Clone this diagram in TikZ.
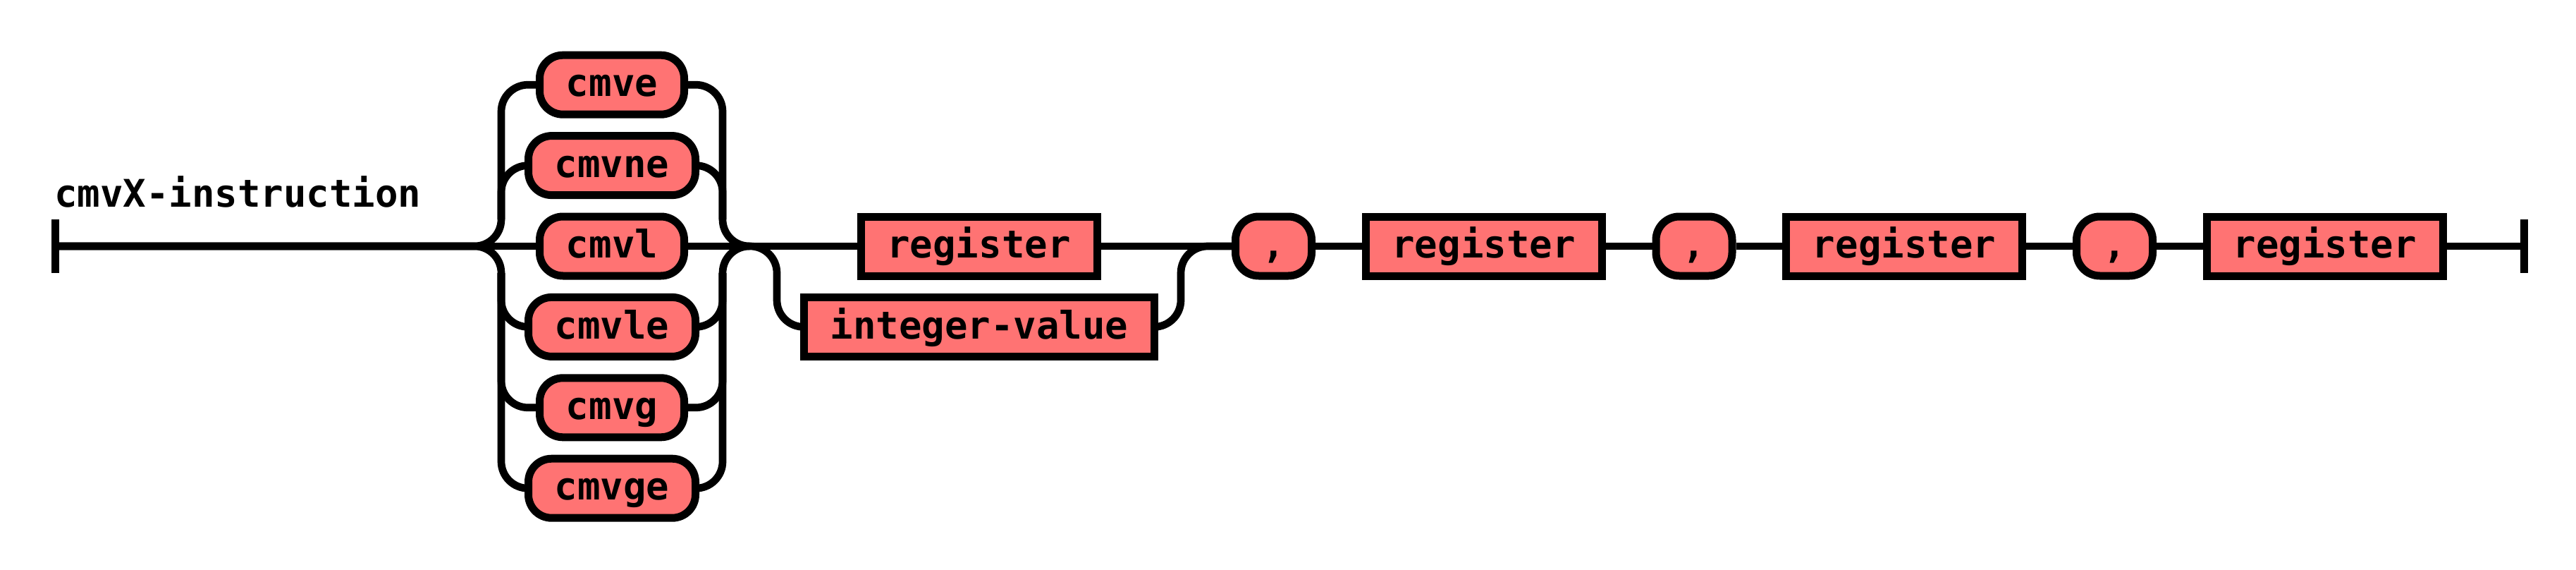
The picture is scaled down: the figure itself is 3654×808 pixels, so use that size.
\documentclass[tikz,border=0pt]{standalone}
\usepackage{fontspec}
\newfontfamily\rrfont{DejaVu Sans Mono}
\definecolor{boxfill}{RGB}{255,115,115}
\begin{document}
\begin{tikzpicture}[x=1pt,y=-1pt,
  rail/.style={line width=10.7pt, draw=black},
  curvy/.style={rail, rounded corners=38pt},
  barline/.style={line width=11pt, draw=black},
  term/.style={draw=black, fill=boxfill, line width=11pt, rounded corners=33pt,
    minimum height=84pt, inner sep=0pt, text height=38.5pt, text depth=5pt,
    font=\fontsize{54pt}{60pt}\rrfont\bfseries},
  nonterm/.style={term, sharp corners},
  title/.style={anchor=base west, inner sep=0pt, font=\fontsize{54pt}{60pt}\rrfont\bfseries}
]
\fill[white] (0,0) rectangle (3654,808);
\useasboundingbox (0,0) rectangle (3654,808);

% title
\node[title] (lbl) at (77,293) {cmvX-instruction};

% nodes
\node[term, minimum width=205pt] (cmve) at (868,120.2) {cmve};
\node[term, minimum width=237pt] (cmvne) at (868,234.6) {cmvne};
\node[term, minimum width=205pt] (cmvl) at (868,349) {cmvl};
\node[term, minimum width=237pt] (cmvle) at (868,463.4) {cmvle};
\node[term, minimum width=205pt] (cmvg) at (868,577.8) {cmvg};
\node[term, minimum width=237pt] (cmvge) at (868,692.2) {cmvge};
\node[nonterm, minimum width=335pt] (reg1) at (1388.5,349) {register};
\node[nonterm, minimum width=497pt] (intval) at (1389,463.4) {integer-value};
\node[term, minimum width=108pt] (c1) at (1806.5,349) {,};
\node[nonterm, minimum width=335pt] (reg2) at (2104.5,349) {register};
\node[term, minimum width=108pt] (c2) at (2403,349) {,};
\node[nonterm, minimum width=335pt] (reg3) at (2701,349) {register};
\node[term, minimum width=108pt] (c3) at (2999.5,349) {,};
\node[nonterm, minimum width=335pt] (reg4) at (3297.5,349) {register};

% rail coordinates
\coordinate (bgn) at (78.5,349);
\coordinate (s1) at (711,349);
\coordinate (s1u) at (711,311);
\coordinate (s1d) at (711,387);
\coordinate (e1) at (1025,349);
\coordinate (e1u) at (1025,311);
\coordinate (e1d) at (1025,387);
\coordinate (m1) at (1063,349);
\coordinate (s2) at (1102,349);
\coordinate (e2) at (1675,349);
\coordinate (fin) at (3580,349);

% connectors
\draw[rail] (bgn) -- (cmvl.west);
\draw[curvy] (bgn) -- (s1) |- (cmve.west);
\draw[curvy] (s1u) |- (cmvne.west);
\draw[curvy] (s1d) |- (cmvle.west);
\draw[curvy] (s1d) |- (cmvg.west);
\draw[curvy] (bgn) -- (s1) |- (cmvge.west);
\draw[curvy] (cmve.east) -| (e1) -- (m1);
\draw[curvy] (cmvne.east) -| (e1u);
\draw[curvy] (cmvle.east) -| (e1d);
\draw[curvy] (cmvg.east) -| (e1d);
\draw[curvy] (cmvge.east) -| (e1) -- (m1);
\draw[rail] (cmvl.east) -- (reg1.west);
\draw[curvy] (m1) -- (s2) |- (intval.west);
\draw[curvy] (intval.east) -| (e2) -- (c1.west);
\draw[rail] (reg1.east) -- (c1.west);
\draw[rail] (c1.east) -- (reg2.west);
\draw[rail] (reg2.east) -- (c2.west);
\draw[rail] (c2.east) -- (reg3.west);
\draw[rail] (reg3.east) -- (c3.west);
\draw[rail] (c3.east) -- (reg4.west);
\draw[rail] (reg4.east) -- (fin);
\draw[barline] (bgn) ++(0,-38) -- ++(0,76);
\draw[barline] (fin) ++(0,-38) -- ++(0,76);
\end{tikzpicture}
\end{document}
